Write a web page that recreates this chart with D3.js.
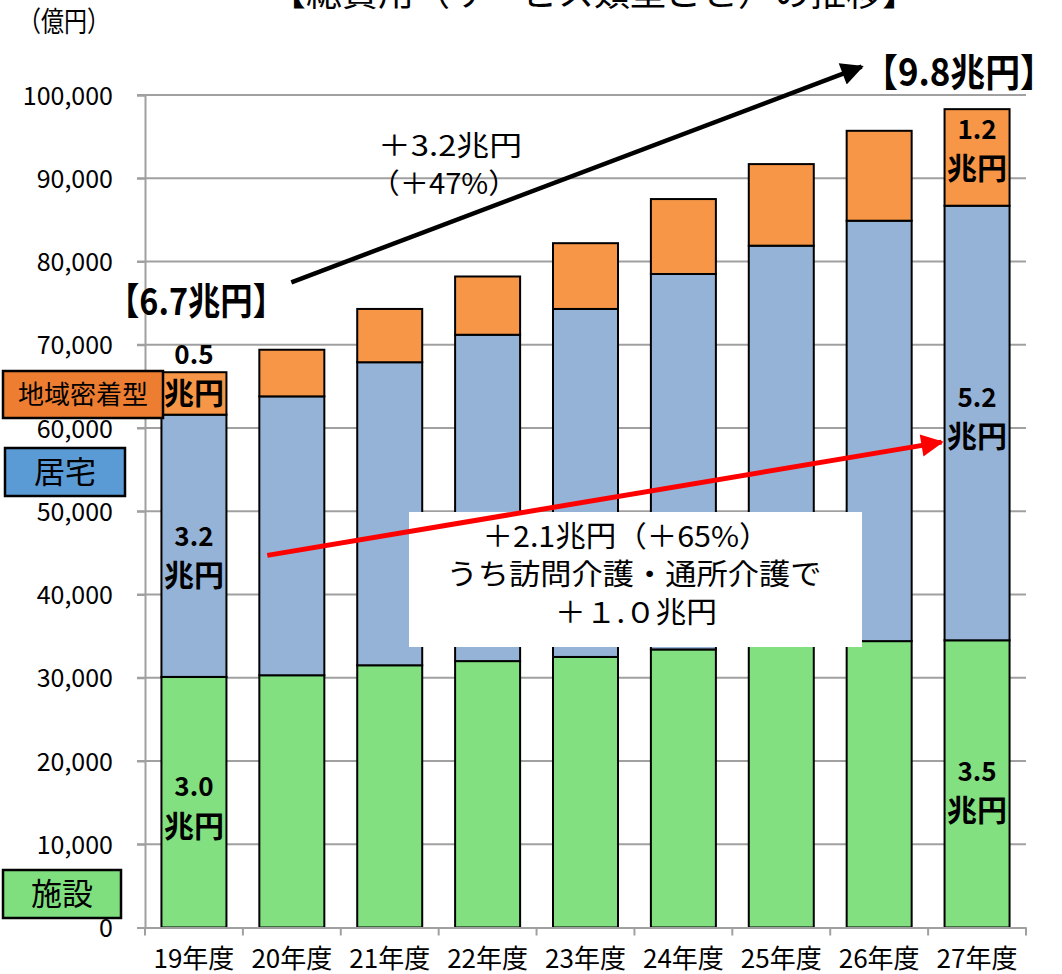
<!DOCTYPE html>
<html><head><meta charset="utf-8">
<script src="https://cdn.jsdelivr.net/npm/d3@7"></script>
<style>
html,body{margin:0;padding:0;background:#fff;}
svg{display:block;font-family:"Noto Sans CJK JP","Noto Sans",sans-serif;}
</style></head>
<body>
<script>
// ---- data (億円) ----
const years = ["19年度","20年度","21年度","22年度","23年度","24年度","25年度","26年度","27年度"];
const shisetsu = [30100, 30300, 31500, 32000, 32500, 33400, 33900, 34400, 34500]; // 施設
const kyotaku  = [31500, 33500, 36400, 39200, 41800, 45100, 48000, 50500, 52200]; // 居宅
const chiiki   = [5100, 5600, 6400, 7000, 7900, 9000, 9800, 10800, 11600];        // 地域密着型
const yTicks = [0,10000,20000,30000,40000,50000,60000,70000,80000,90000,100000];
const seriesNames = ["施設","居宅","地域密着型"];
const barColors = ["#82E080","#95B3D7","#F79646"];
const legendColors = ["#7FDF7F","#5B9BD5","#ED7D31"];

const W = 1062, H = 974;
const svg = d3.select("body").append("svg").attr("width", W).attr("height", H);

const x = d3.scaleBand().domain(years).range([145, 1026]).paddingInner(0.336).paddingOuter(0.168);
const y = d3.scaleLinear().domain([0, 100000]).range([927.5, 95]);

// title (clipped at top, as in the source)
svg.append("text").attr("x", 594).attr("y", 6).attr("text-anchor","middle")
  .attr("font-size", 36).attr("fill","#000").text("【総費用（サービス類型ごと）の推移】");
svg.append("text").attr("x", 64).attr("y", 32).attr("text-anchor","middle")
  .attr("font-size", 28).attr("fill","#000").attr("textLength",92).attr("lengthAdjust","spacingAndGlyphs").text("（億円）");

// gridlines
svg.append("g").selectAll("line").data(yTicks.filter(d=>d>0)).join("line")
  .attr("x1", 137).attr("x2", 1026).attr("y1", d=>y(d)).attr("y2", d=>y(d))
  .attr("stroke", "#a0a0a0").attr("stroke-width", 2);

// y axis
const yAxis = d3.axisLeft(y).tickValues(yTicks).tickSize(8).tickFormat(d3.format(","));
const gy = svg.append("g").attr("transform","translate(145,0)").call(yAxis);
gy.select(".domain").attr("stroke","#a0a0a0").attr("stroke-width",2);
gy.selectAll(".tick line").attr("stroke","#a0a0a0").attr("stroke-width",2);
gy.selectAll(".tick text").attr("font-size",25).attr("fill","#000")
  .attr("font-family",'"Noto Sans CJK JP",sans-serif').attr("x",-32).attr("dy","0.36em");

// stacked bars
const table = years.map((yr,i)=>({year:yr, "施設":shisetsu[i], "居宅":kyotaku[i], "地域密着型":chiiki[i]}));
const stack = d3.stack().keys(seriesNames)(table);
svg.append("g").selectAll("g").data(stack).join("g")
  .attr("fill",(d,i)=>barColors[i])
  .selectAll("rect").data(d=>d).join("rect")
  .attr("x", d=>x(d.data.year)).attr("width", x.bandwidth())
  .attr("y", d=>y(d[1])).attr("height", d=>y(d[0])-y(d[1]))
  .attr("stroke","#000").attr("stroke-width",2);

// x axis
const xAxis = d3.axisBottom(x).tickSize(0);
const gx = svg.append("g").attr("transform",`translate(0,${y(0)})`).call(xAxis);
gx.select(".domain").attr("stroke","#a0a0a0").attr("stroke-width",2);
gx.selectAll(".tick text").attr("font-size",26).attr("fill","#000")
  .attr("font-family",'"Noto Sans CJK JP",sans-serif').attr("y",22).attr("dy","0.71em");
// boundary tick marks
const bounds = years.map(d=>x(d) - x.step()*x.paddingInner()/2).concat([x.range()[1]]);
svg.append("g").selectAll("line").data(bounds).join("line")
  .attr("x1",d=>d).attr("x2",d=>d).attr("y1",y(0)).attr("y2",y(0)+8)
  .attr("stroke","#a0a0a0").attr("stroke-width",2);

// markers
const defs = svg.append("defs");
function marker(id,color,w,h){
  defs.append("marker").attr("id",id).attr("viewBox","0 0 10 10").attr("refX",9).attr("refY",5)
    .attr("markerWidth",w).attr("markerHeight",h).attr("markerUnits","strokeWidth").attr("orient","auto")
    .append("path").attr("d","M0,0 L10,5 L0,10 Z").attr("fill",color);
}
marker("ah-black","#000",6,5); marker("ah-red","#f00",5.5,4.5);

// white annotation box
svg.append("rect").attr("x",409).attr("y",512).attr("width",453).attr("height",135).attr("fill","#fff");
const boxLines = [["＋2.1兆円（＋65%）",547,626,287],["うち訪問介護・通所介護で",585,634,375],["＋１.０兆円",623,636,162]];
svg.append("g").selectAll("text").data(boxLines).join("text")
  .attr("x",d=>d[2]).attr("y",d=>d[1]).attr("text-anchor","middle").attr("font-size",29).attr("fill","#000")
  .attr("textLength",d=>d[3]).attr("lengthAdjust","spacingAndGlyphs")
  .text(d=>d[0]);

// black arrow
const bw = x.bandwidth();
svg.append("line").attr("x1", x(years[1])+32).attr("y1", y(77500))
  .attr("x2", x(years[7])+15).attr("y2", y(103400))
  .attr("stroke","#000").attr("stroke-width",4.5).attr("marker-end","url(#ah-black)");
// red arrow
svg.append("line").attr("x1", x(years[1])+8).attr("y1", y(44700))
  .attr("x2", x(years[8])-3).attr("y2", y(58300))
  .attr("stroke","#f00").attr("stroke-width",5).attr("marker-end","url(#ah-red)");

// growth annotation texts
svg.append("text").attr("x",450).attr("y",156).attr("text-anchor","middle").attr("font-size",28)
  .attr("textLength",144).attr("lengthAdjust","spacingAndGlyphs").text("＋3.2兆円");
svg.append("text").attr("x",444).attr("y",194).attr("text-anchor","middle").attr("font-size",28)
  .attr("textLength",147).attr("lengthAdjust","spacingAndGlyphs").text("（＋47%）");
svg.append("text").attr("x",196).attr("y",315).attr("text-anchor","middle").attr("font-size",37).attr("font-weight",700)
  .attr("textLength",178).attr("lengthAdjust","spacingAndGlyphs").text("【6.7兆円】");
svg.append("text").attr("x",959).attr("y",86).attr("text-anchor","middle").attr("font-size",38).attr("font-weight",700)
  .attr("textLength",192).attr("lengthAdjust","spacingAndGlyphs").text("【9.8兆円】");

// legend boxes
const legends = [
  {name:"地域密着型", c:2, x:3, y:371, w:160, h:47, fs:26},
  {name:"居宅", c:1, x:5, y:448, w:120, h:48, fs:31},
  {name:"施設", c:0, x:3, y:870, w:118, h:48, fs:31}
];
const lg = svg.append("g").selectAll("g").data(legends).join("g");
lg.append("rect").attr("x",d=>d.x).attr("y",d=>d.y).attr("width",d=>d.w).attr("height",d=>d.h)
  .attr("fill",d=>legendColors[d.c]).attr("stroke","#000").attr("stroke-width",2.5);
lg.append("text").attr("x",d=>d.x+d.w/2).attr("y",d=>d.y+d.h/2).attr("dy","0.36em")
  .attr("text-anchor","middle").attr("font-size",d=>d.fs).attr("fill","#000").text(d=>d.name);

// value labels (兆円)
const cx0 = x(years[0]) + bw/2, cx8 = x(years[8]) + bw/2;
const valueLabels = [
  ["0.5", cx0, 355], ["兆円", cx0, 393],
  ["3.2", cx0, 537], ["兆円", cx0, 575],
  ["3.0", cx0, 787], ["兆円", cx0, 826],
  ["1.2", cx8, 130], ["兆円", cx8, 168],
  ["5.2", cx8, 398], ["兆円", cx8, 436],
  ["3.5", cx8, 772], ["兆円", cx8, 810]
];
svg.append("g").selectAll("text").data(valueLabels).join("text")
  .attr("x",d=>d[1]).attr("y",d=>d[2]).attr("dy","0.36em").attr("text-anchor","middle")
  .attr("font-size",d=>d[0]==="兆円"?30:26).attr("font-weight",700).attr("fill","#000").text(d=>d[0]);
</script>
</body></html>
